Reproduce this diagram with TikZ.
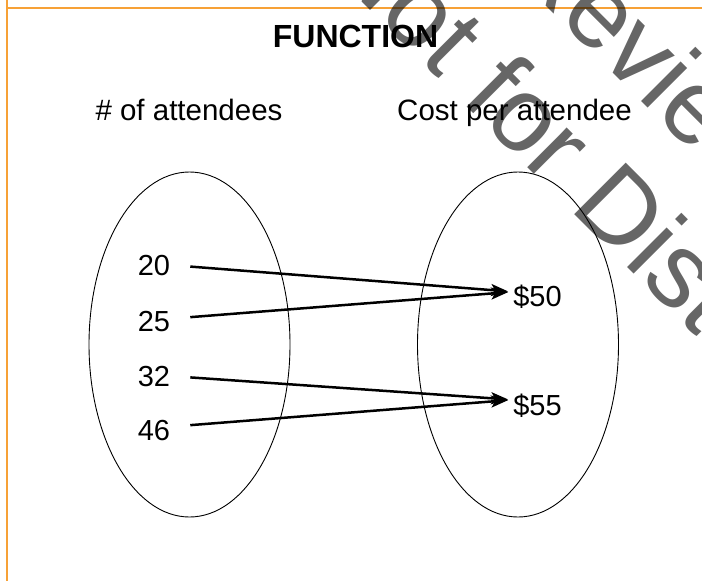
\documentclass[tikz,border=0pt]{standalone}
\usepackage{fontspec}
\setmainfont{Liberation Sans}
\usetikzlibrary{shapes.geometric, arrows.meta, positioning}
\definecolor{fnorange}{HTML}{F7A136}
\definecolor{fnmark}{HTML}{000000}

\begin{document}
\begin{tikzpicture}[
    x=1pt, y=-1pt,
    setoval/.style={ellipse, draw=black, line width=0.9pt, minimum width=201pt, minimum height=345pt, inner sep=0pt},
    heading/.style={font=\fontsize{29.5}{35}\selectfont, inner sep=0pt, anchor=base},
    value/.style={font=\fontsize{29}{35}\selectfont, inner sep=0pt, anchor=base},
    frameline/.style={draw=fnorange, line width=2.3pt},
    wmark/.style={font=\fontsize{106}{127}\selectfont, text=fnmark, text opacity=0.6, rotate=-45, inner sep=0pt, anchor=base west},
    arrow/.style={-{Stealth[length=17pt, width=12pt, inset=4pt]}, line width=2.5pt, shorten <=20pt, shorten >=5pt}
]
\useasboundingbox (0,0) rectangle (702,581);

% page frame
\draw[frameline] (7,0) -- (7,581);
\draw[frameline] (6,8) -- (702,8);

% watermark
\node[wmark] (review) at (503,-37) {Review};
\node[wmark] (notfor) at (322.7,-37.3) {Not for Distribution};

\node[font=\bfseries\fontsize{32}{38}\selectfont, inner sep=0pt, anchor=base] (title) at (355.5,47) {FUNCTION};

\node[setoval] (inputs) at (189.5,344.5) {};
\node[setoval] (outputs) at (518,344.5) {};
\node[heading] (attendees) at (189,120) {\# of attendees};
\node[heading] (cost) at (514.5,120) {Cost per attendee};

\node[value] (n20) at (154,275) {20};
\node[value] (n25) at (154,331.7) {25};
\node[value] (n32) at (154,386) {32};
\node[value] (n46) at (154,440.7) {46};
\node[value] (p50) at (537.5,306.5) {\$50};
\node[value] (p55) at (537.5,415) {\$55};

\draw[arrow] (n20.east) -- ([yshift=5pt]p50.west);
\draw[arrow] ([yshift=3pt]n25.east) -- ([yshift=5pt]p50.west);
\draw[arrow] (n32.east) -- ([yshift=5.5pt]p55.west);
\draw[arrow] ([yshift=4pt]n46.east) -- ([yshift=5.5pt]p55.west);

\end{tikzpicture}
\end{document}
